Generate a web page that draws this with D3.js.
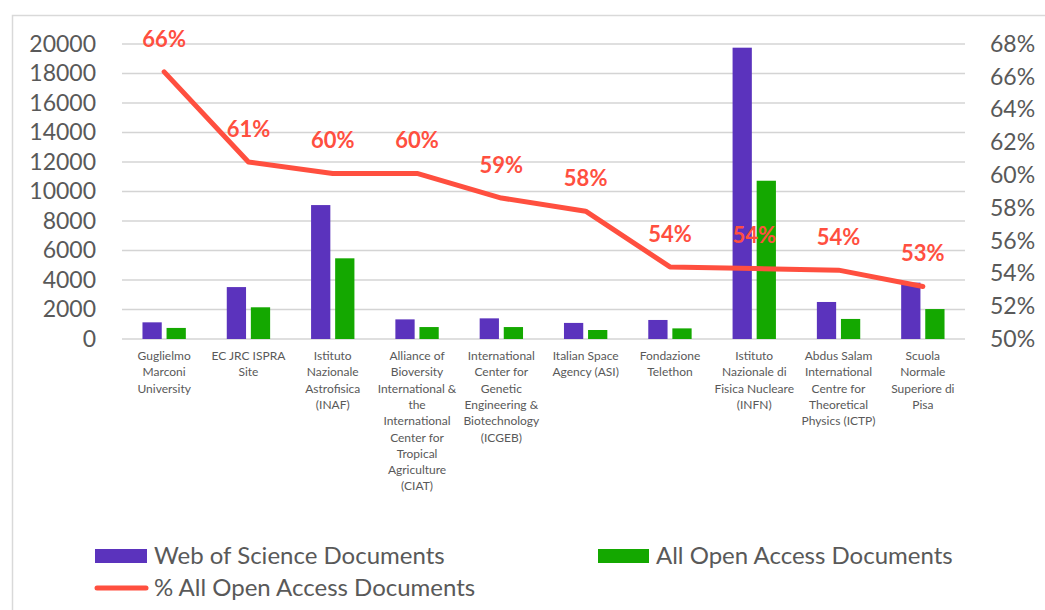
<!DOCTYPE html>
<html>
<head>
<meta charset="utf-8">
<script src="https://cdn.jsdelivr.net/npm/d3@7"></script>
<style>
  body { margin: 0; background: #fff; }
  svg { display: block; font-family: Lato, "Open Sans", sans-serif; }
</style>
</head>
<body>
<div id="chart"></div>
<script>
// Chart data
const categories = [
    ['Guglielmo', 'Marconi', 'University'],
    ['EC JRC ISPRA', 'Site'],
    ['Istituto', 'Nazionale', 'Astrofisica', '(INAF)'],
    ['Alliance of', 'Bioversity', 'International &', 'the', 'International', 'Center for', 'Tropical', 'Agriculture', '(CIAT)'],
    ['International', 'Center for', 'Genetic', 'Engineering &', 'Biotechnology', '(ICGEB)'],
    ['Italian Space', 'Agency (ASI)'],
    ['Fondazione', 'Telethon'],
    ['Istituto', 'Nazionale di', 'Fisica Nucleare', '(INFN)'],
    ['Abdus Salam', 'International', 'Centre for', 'Theoretical', 'Physics (ICTP)'],
    ['Scuola', 'Normale', 'Superiore di', 'Pisa']
];
const wosDocs = [1130, 3520, 9080, 1330, 1400, 1090, 1290, 19750, 2510, 3820];
const oaDocs = [750, 2150, 5470, 810, 810, 610, 720, 10730, 1360, 2030];
const oaPct = [0.663, 0.608, 0.601, 0.601, 0.586, 0.578, 0.544, 0.543, 0.542, 0.532];
const leftTicks = [0, 2000, 4000, 6000, 8000, 10000, 12000, 14000, 16000, 18000, 20000];
const rightTicks = [0.50, 0.52, 0.54, 0.56, 0.58, 0.60, 0.62, 0.64, 0.66, 0.68];
const seriesNames = ['Web of Science Documents', 'All Open Access Documents', '% All Open Access Documents'];

const colors = { wos: '#5b33bd', oa: '#14a800', pct: '#ff4f3f' };
const W = 1045, H = 610;
const plot = { left: 122, right: 965, top: 44, bottom: 339 };

const svg = d3.select('#chart').append('svg')
    .attr('width', W)
    .attr('height', H);

// outer chart border (left and top edges visible)
svg.append('rect')
    .attr('x', 12.5).attr('y', 15.5)
    .attr('width', W + 20).attr('height', H + 20)
    .attr('fill', 'none')
    .attr('stroke', '#d9d9d9')
    .attr('stroke-width', 1.5);

// Scales
const x0 = d3.scaleBand()
    .domain(d3.range(categories.length))
    .range([plot.left, plot.right]);

const x1 = d3.scaleBand()
    .domain(['wos', 'oa'])
    .range([0, x0.bandwidth()])
    .paddingInner(0.2)
    .paddingOuter(0.85);

const yLeft = d3.scaleLinear().domain([0, 20000]).range([plot.bottom, plot.top]);
const yRight = d3.scaleLinear().domain([0.50, 0.68]).range([plot.bottom, plot.top]);

// Gridlines
svg.append('g')
    .selectAll('line')
    .data(leftTicks)
    .enter()
    .append('line')
    .attr('x1', plot.left)
    .attr('x2', plot.right)
    .attr('y1', d => yLeft(d))
    .attr('y2', d => yLeft(d))
    .attr('stroke', '#d4d4d4')
    .attr('stroke-width', 1.6);

// Left axis
const leftAxis = svg.append('g')
    .attr('transform', `translate(${plot.left - 26},0)`)
    .call(d3.axisLeft(yLeft).tickValues(leftTicks).tickSize(0).tickPadding(0).tickFormat(d3.format('d')));
leftAxis.select('.domain').remove();
leftAxis.selectAll('text')
    .style('font-family', 'Lato, sans-serif')
    .style('font-size', '23px')
    .style('fill', '#595959');

// Right axis
const rightAxis = svg.append('g')
    .attr('transform', `translate(${plot.right + 25},0)`)
    .call(d3.axisRight(yRight).tickValues(rightTicks).tickSize(0).tickPadding(0).tickFormat(d3.format('.0%')));
rightAxis.select('.domain').remove();
rightAxis.selectAll('text')
    .style('font-family', 'Lato, sans-serif')
    .style('font-size', '23px')
    .style('fill', '#595959');

// Bars
const groups = svg.append('g')
    .selectAll('g')
    .data(categories.map((c, i) => i))
    .enter()
    .append('g')
    .attr('transform', i => `translate(${x0(i)},0)`);

groups.append('rect')
    .attr('x', x1('wos'))
    .attr('y', i => yLeft(wosDocs[i]))
    .attr('width', x1.bandwidth())
    .attr('height', i => yLeft(0) - yLeft(wosDocs[i]))
    .attr('fill', colors.wos);

groups.append('rect')
    .attr('x', x1('oa'))
    .attr('y', i => yLeft(oaDocs[i]))
    .attr('width', x1.bandwidth())
    .attr('height', i => yLeft(0) - yLeft(oaDocs[i]))
    .attr('fill', colors.oa);

// Category labels
const cx = i => x0(i) + x0.bandwidth() / 2;
const catText = svg.append('g')
    .selectAll('text')
    .data(categories)
    .enter()
    .append('text')
    .attr('text-anchor', 'middle')
    .style('font-size', '12px')
    .style('fill', '#595959');
catText.selectAll('tspan')
    .data((d, i) => d.map(line => ({ line, i })))
    .enter()
    .append('tspan')
    .attr('x', d => cx(d.i))
    .attr('y', (d, j) => 360 + j * 16.3)
    .text(d => d.line);

// Percentage line
const line = d3.line()
    .x((d, i) => cx(i))
    .y(d => yRight(d));

svg.append('path')
    .datum(oaPct)
    .attr('d', line)
    .attr('fill', 'none')
    .attr('stroke', colors.pct)
    .attr('stroke-width', 5)
    .attr('stroke-linecap', 'round')
    .attr('stroke-linejoin', 'round');

// Percentage labels
svg.append('g')
    .selectAll('text')
    .data(oaPct)
    .enter()
    .append('text')
    .attr('x', (d, i) => cx(i))
    .attr('y', d => yRight(d) - 33)
    .attr('dy', '0.35em')
    .attr('text-anchor', 'middle')
    .style('font-size', '22px')
    .style('font-weight', 'bold')
    .style('fill', colors.pct)
    .text(d => Math.round(d * 100) + '%');

// Legend
const legend = svg.append('g').style('font-size', '24px').style('fill', '#595959');
legend.append('rect').attr('x', 95).attr('y', 549).attr('width', 52).attr('height', 14).attr('fill', colors.wos);
legend.append('text').attr('x', 154).attr('y', 556).attr('dy', '0.35em').text(seriesNames[0]);
legend.append('rect').attr('x', 598).attr('y', 549).attr('width', 51).attr('height', 14).attr('fill', colors.oa);
legend.append('text').attr('x', 656).attr('y', 556).attr('dy', '0.35em').text(seriesNames[1]);
legend.append('line').attr('x1', 97).attr('x2', 146).attr('y1', 588).attr('y2', 588)
    .attr('stroke', colors.pct).attr('stroke-width', 5).attr('stroke-linecap', 'round');
legend.append('text').attr('x', 154).attr('y', 588).attr('dy', '0.35em').text(seriesNames[2]);
</script>
</body>
</html>
